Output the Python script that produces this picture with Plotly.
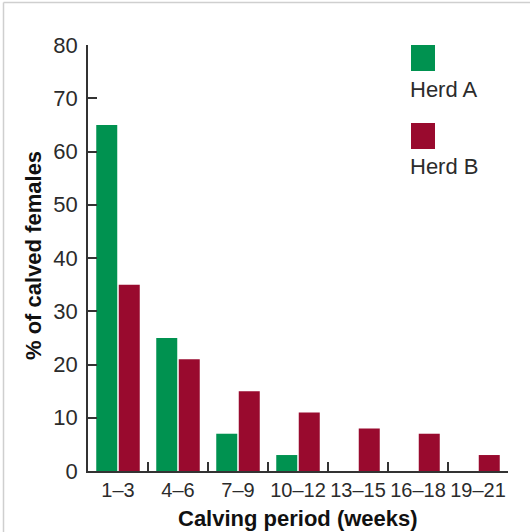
import plotly.graph_objects as go

categories = ["1–3", "4–6", "7–9", "10–12", "13–15", "16–18", "19–21"]
herd_a = [65, 25, 7, 3, 0, 0, 0]
herd_b = [35, 21, 15, 11, 8, 7, 3]
series_names = ["Herd A", "Herd B"]
y_ticks = [0, 10, 20, 30, 40, 50, 60, 70, 80]

GREEN = "rgb(0,146,80)"
RED = "rgb(153,10,46)"
TXT = "#2b2b2b"

W, H = 530, 532
L, R, T, B = 88, 22, 45, 61
PW, PH = W - L - R, H - T - B

def px(x):
    return (x - L) / PW

def py(y):
    return (H - B - y) / PH

fig = go.Figure()
fig.add_trace(go.Bar(x=categories, y=herd_a, name=series_names[0], marker_color=GREEN, marker_line_width=0))
fig.add_trace(go.Bar(x=categories, y=herd_b, name=series_names[1], marker_color=RED, marker_line_width=0))

shapes = [
    # page frame (top and left)
    dict(type="line", xref="paper", yref="paper", x0=px(3.5), x1=px(530), y0=py(2.5), y1=py(2.5),
         line=dict(color="#cfcfcf", width=1.5)),
    dict(type="line", xref="paper", yref="paper", x0=px(3.5), x1=px(3.5), y0=py(2.5), y1=py(532),
         line=dict(color="#cfcfcf", width=1.5)),
    # legend swatches
    dict(type="rect", xref="paper", yref="paper", x0=px(411), x1=px(435), y0=py(71), y1=py(45),
         fillcolor=GREEN, line_width=0),
    dict(type="rect", xref="paper", yref="paper", x0=px(411), x1=px(435), y0=py(149), y1=py(123),
         fillcolor=RED, line_width=0),
]

annotations = [
    dict(text=series_names[0], xref="paper", yref="paper", x=px(408), y=py(90), xanchor="left", yanchor="middle",
         showarrow=False, font=dict(family="Liberation Sans", size=22, color=TXT)),
    dict(text=series_names[1], xref="paper", yref="paper", x=px(408), y=py(166), xanchor="left", yanchor="middle",
         showarrow=False, font=dict(family="Liberation Sans", size=22, color=TXT)),
    dict(text="<b>Calving period (weeks)</b>", xref="paper", yref="paper", x=px(298), y=py(518),
         xanchor="center", yanchor="middle", showarrow=False,
         font=dict(family="Liberation Sans", size=22, color="#111")),
    dict(text="<b>% of calved females</b>", xref="paper", yref="paper", x=px(33), y=py(256),
         xanchor="center", yanchor="middle", showarrow=False, textangle=-90,
         font=dict(family="Liberation Sans", size=22, color="#111")),
]

fig.update_layout(
    width=W, height=H,
    margin=dict(l=L, r=R, t=T, b=B, pad=0),
    paper_bgcolor="white", plot_bgcolor="white",
    barmode="group", bargap=0.25, bargroupgap=0.067,
    showlegend=False,
    shapes=shapes, annotations=annotations,
    font=dict(family="Liberation Sans", size=20, color=TXT),
)
fig.update_xaxes(
    type="category", range=[-0.5, 6.5], showgrid=False, zeroline=False,
    showline=True, linecolor="#333", linewidth=1.5,
    ticks="inside", tickson="boundaries", ticklen=9, tickwidth=1.5, tickcolor="#333",
    tickangle=0,
    tickfont=dict(family="Liberation Sans", size=20, color=TXT),
)
fig.update_yaxes(
    range=[0, 80], tickvals=y_ticks, showgrid=False, zeroline=False,
    showline=True, linecolor="#333", linewidth=1.5,
    ticks="inside", ticklen=9, tickwidth=1.5, tickcolor="#333",
    ticklabelstandoff=4,
    tickfont=dict(family="Liberation Sans", size=22, color=TXT),
)

fig.write_html(
    "out.html",
    config={"displayModeBar": False},
    post_script="document.body.style.margin='0';document.body.style.overflow='hidden';",
)
